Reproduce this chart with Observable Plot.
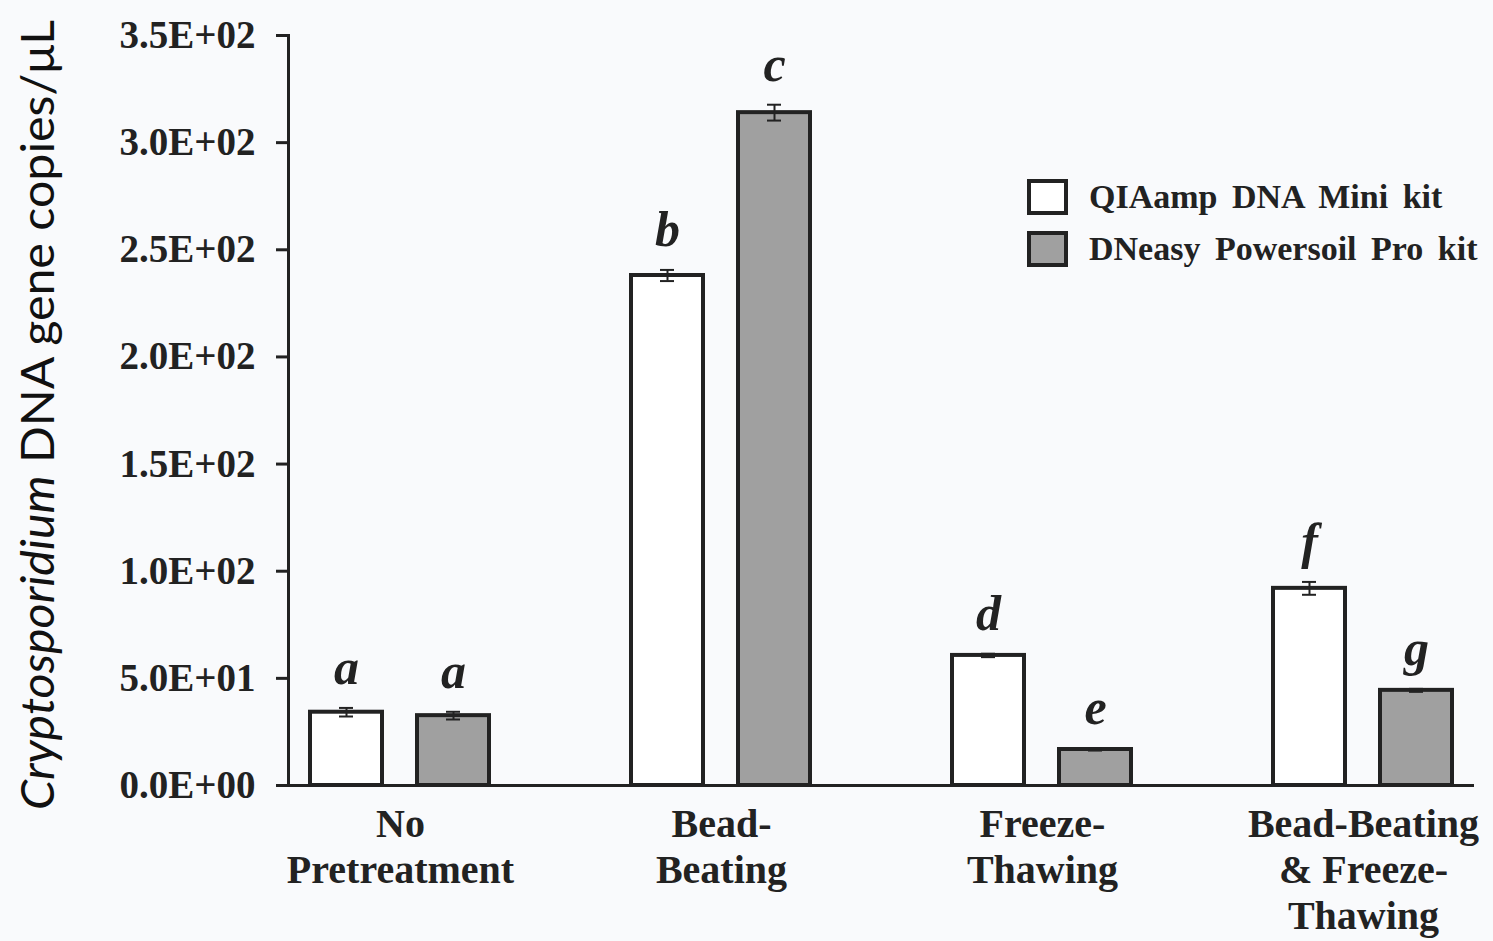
<!DOCTYPE html>
<html><head><meta charset="utf-8">
<script src="https://cdn.jsdelivr.net/npm/d3@7"></script>
<script src="https://cdn.jsdelivr.net/npm/@observablehq/plot@0.6"></script>
<style>
html,body{margin:0;padding:0;background:#f9fafc;}
#wrap{position:relative;width:1493px;height:941px;overflow:hidden;}
#legend{position:absolute;left:1027px;top:171px;font-family:"Liberation Serif",serif;font-weight:bold;font-size:34px;color:#222;word-spacing:6px;}
.row{display:flex;align-items:center;height:52px;white-space:nowrap;}
.sw{box-sizing:border-box;width:41px;height:36px;border:4px solid #222;margin-right:21px;flex:none;}
</style></head><body><div id="wrap"><div id="legend"></div></div>
<script>
const groups = ["No\nPretreatment", "Bead-\nBeating", "Freeze-\nThawing", "Bead-Beating\n& Freeze-\nThawing"];
const kits = ["QIAamp DNA Mini kit", "DNeasy Powersoil Pro kit"];
const qiaValues = [34.2, 238, 60.7, 92];
const qiaErrors = [2.0, 2.6, 0.8, 3.0];
const dneasyValues = [32.6, 314, 16.8, 44.4];
const dneasyErrors = [1.8, 3.7, 0.5, 0.7];
const qiaLetters = ["a", "b", "d", "f"];
const dneasyLetters = ["a", "c", "e", "g"];
const yTicks = [0, 50, 100, 150, 200, 250, 300, 350];
const kitColors = ["#ffffff", "#a0a0a0"];
const yLabelItalic = "Cryptosporidium";
const yLabelRest = " DNA gene copies/\u03bcL";

const series = [
  {values: qiaValues, errors: qiaErrors, letters: qiaLetters},
  {values: dneasyValues, errors: dneasyErrors, letters: dneasyLetters}
];
const rows = [];
const domain = [];
groups.forEach((g, i) => {
  if (i > 0) domain.push("gap" + i);
  kits.forEach((k, j) => {
    const key = i + "|" + j;
    domain.push(key);
    rows.push({group: g, kit: k, key, value: series[j].values[i], err: series[j].errors[i], letter: series[j].letters[i]});
  });
});
const groupRows = groups.map((g, i) => ({group: g, key: i + "|0"}));

const fmt = d => {
  const [m, e] = d.toExponential(1).split("e");
  const sign = e[0];
  const num = e.slice(1).padStart(2, "0");
  return m + "E" + sign + num;
};

const ink = "#222";
const plot = Plot.plot({
  width: 1493,
  height: 941,
  marginLeft: 288,
  marginRight: 19,
  marginTop: 35,
  marginBottom: 156,
  style: {background: "transparent", overflow: "visible"},
  x: {domain, paddingInner: 0.33, paddingOuter: 0.18, axis: null},
  y: {domain: [0, 350], axis: null},
  color: {domain: kits, range: kitColors},
  marks: [
    Plot.barY(rows, {x: "key", y: "value", fill: "kit", stroke: ink, strokeWidth: 4}),
    Plot.ruleX(rows, {x: "key", y1: d => d.value - d.err, y2: d => d.value + d.err, stroke: ink, strokeWidth: 2}),
    Plot.tickY(rows, {x: "key", y: d => d.value + d.err, stroke: ink, strokeWidth: 2, insetLeft: 29, insetRight: 29}),
    Plot.tickY(rows, {x: "key", y: d => d.value - d.err, stroke: ink, strokeWidth: 2, insetLeft: 29, insetRight: 29}),
    Plot.text(rows, {x: "key", y: d => d.value + d.err, text: "letter", lineAnchor: "bottom", dy: -24,
      fontSize: 50, fontStyle: "italic", fontWeight: "bold", fontFamily: "Liberation Serif", fill: ink}),
    Plot.axisY(yTicks, {tickFormat: fmt, tickSize: 12, tickPadding: 21, fontSize: 39, fontWeight: "bold",
      fontFamily: "Liberation Serif", stroke: ink, strokeWidth: 3, fill: ink, label: null}),
    Plot.frame({anchor: "left", stroke: ink, strokeWidth: 3}),
    Plot.ruleY([0], {stroke: ink, strokeWidth: 3}),
    Plot.text(groupRows, {x: "key", text: "group", frameAnchor: "bottom", lineAnchor: "top", dx: 54, dy: 19,
      lineHeight: 1.15, fontSize: 40, fontWeight: "bold", fontFamily: "Liberation Serif", fill: ink})
  ]
});

const svg = d3.select(plot);
const lab = svg.append("text")
  .attr("transform", "translate(54,415) rotate(-90)")
  .attr("text-anchor", "middle")
  .attr("font-family", "Lato, sans-serif")
  .attr("font-size", 47)
  .attr("fill", "#111")
  .attr("textLength", 790)
  .attr("lengthAdjust", "spacingAndGlyphs");
lab.append("tspan").attr("font-style", "italic").text(yLabelItalic);
lab.append("tspan").text(yLabelRest);

document.getElementById("wrap").prepend(plot);

const legend = d3.select("#legend");
kits.forEach((k, j) => {
  const r = legend.append("div").attr("class", "row");
  r.append("div").attr("class", "sw").style("background", kitColors[j]);
  r.append("span").text(k);
});
</script></body></html>
